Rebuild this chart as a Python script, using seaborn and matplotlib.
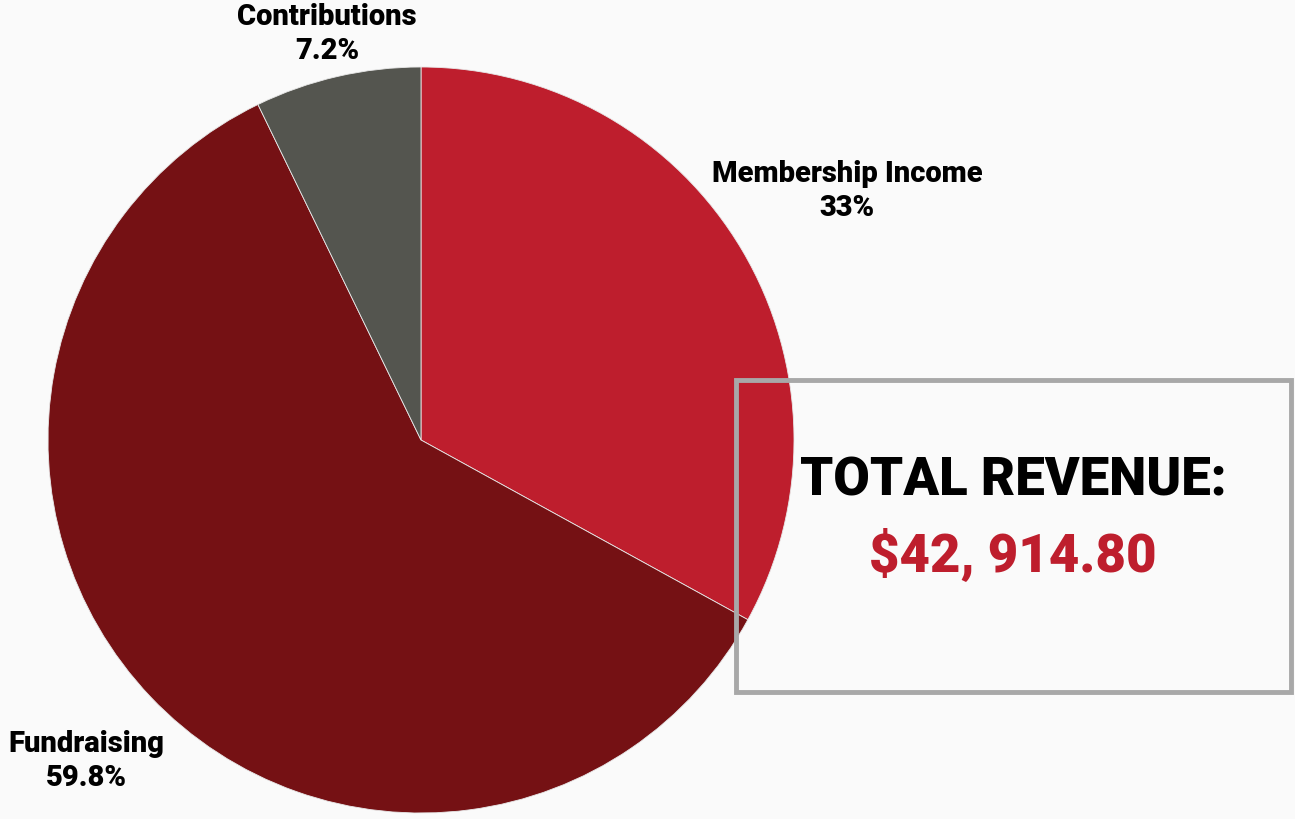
import matplotlib
matplotlib.use("Agg")
import matplotlib.pyplot as plt
import seaborn as sns
from matplotlib.patches import Rectangle

# data
categories = ["Membership Income", "Fundraising", "Contributions"]
shares = [33.0, 59.8, 7.2]
share_labels = ["33%", "59.8%", "7.2%"]
total_label = "$42, 914.80"

sns.set_theme(style="white")
plt.rcParams["font.family"] = ["Roboto", "DejaVu Sans"]

colors = ["#BE1E2D", "#751114", "#54554F"]
bg = "#FAFAFA"

W, H = 1295, 819
fig = plt.figure(figsize=(W / 100, H / 100), dpi=100, facecolor=bg)
ax = fig.add_axes([0, 0, 1, 1])
ax.set_facecolor(bg)

ax.pie(shares, colors=colors, startangle=90, counterclock=False,
       center=(421, H - 440), radius=373, frame=True,
       wedgeprops=dict(edgecolor="#e8e8e8", linewidth=0.6))
ax.set_xlim(0, W)
ax.set_ylim(0, H)
ax.set_aspect("equal")
ax.axis("off")

# slice labels
label_pos = {"Membership Income": (847, 191),
             "Fundraising": (86, 761),
             "Contributions": (327, 34)}
for cat, lab in zip(categories, share_labels):
    x, y = label_pos[cat]
    ax.text(x, H - y, cat + "\n" + lab, ha="center", va="center",
            fontsize=21, fontweight="heavy", color="black", linespacing=1.25)

# total box
ax.add_patch(Rectangle((736, H - 692), 555, 312, fill=False,
                       edgecolor="#A8A8A8", linewidth=3.5, zorder=5))
ax.text(1013, H - 481, "TOTAL REVENUE:", ha="center", va="center",
        fontsize=38, fontweight="heavy", color="black", zorder=6)
ax.text(1013, H - 556, total_label, ha="center", va="center",
        fontsize=38, fontweight="heavy", color="#BE1E2D", zorder=6)

fig.savefig("out.png", dpi=100, facecolor=bg)
